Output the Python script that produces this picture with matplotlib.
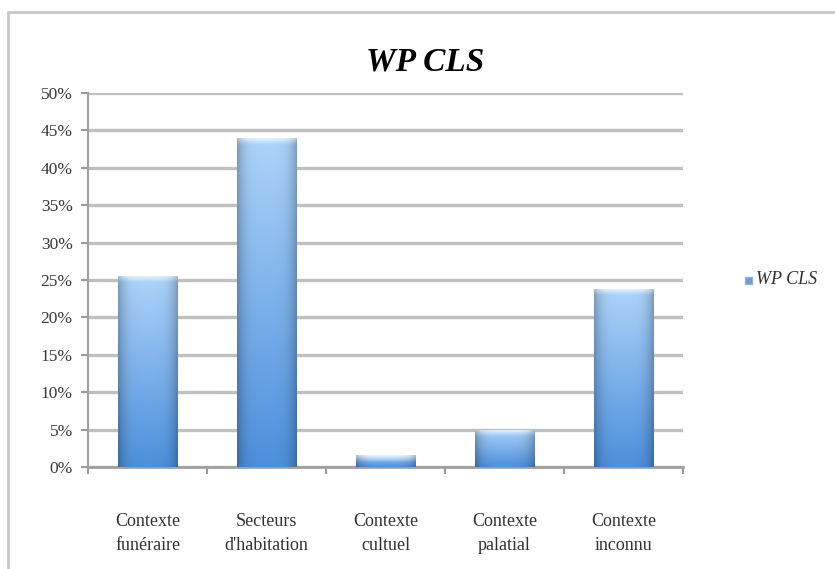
import numpy as np
import matplotlib
matplotlib.use('Agg')
import matplotlib.pyplot as plt
from matplotlib.patches import Rectangle

# data
categories = ['Contexte\nfunéraire', "Secteurs\nd'habitation", 'Contexte\ncultuel',
              'Contexte\npalatial', 'Contexte\ninconnu']
values = [25.6, 44.0, 1.6, 5.0, 23.8]
yticks = [0, 5, 10, 15, 20, 25, 30, 35, 40, 45, 50]
series_name = 'WP CLS'

plt.rcParams['font.family'] = ['Liberation Serif', 'DejaVu Serif']

fig = plt.figure(figsize=(8.35, 5.69), dpi=100)
# light grey frame round the whole chart
fig.patches.append(Rectangle((8 / 835, -0.01), 1.0, 1 - 12 / 569 + 0.01,
                             transform=fig.transFigure, fill=False,
                             edgecolor='#c8c8c8', linewidth=2))

ax = fig.add_axes([88 / 835, 1 - 467 / 569, (683 - 88) / 835, (467 - 93) / 569])

x = np.arange(len(categories))
bars = ax.bar(x, values, width=0.5, color='none', zorder=3)

# vertical gradient (light top, darker bottom) with darker edges
gy = np.linspace(0, 1, 256)[:, None]
gx = np.linspace(-1, 1, 64)[None, :]
light = np.array([0.68, 0.83, 0.98])
dark = np.array([0.30, 0.56, 0.86])
px_per_unit = 374 / 50
for b in bars:
    h = b.get_height()
    t = gy * np.ones_like(gx)
    edge = np.abs(gx) ** 4 * np.ones_like(gy)
    img = light[None, None, :] * (1 - t[..., None]) + dark[None, None, :] * t[..., None]
    img = img * (1 - 0.25 * edge[..., None])
    # soft white cap at the top, about 7 px deep
    depth = 7 / (h * px_per_unit)
    w = np.clip(1 - gy / depth, 0, 1) * 0.75 * (1 - 0.5 * edge)
    img = img * (1 - w[..., None]) + w[..., None]
    x0 = b.get_x()
    im = ax.imshow(np.clip(img, 0, 1), extent=[x0, x0 + b.get_width(), 0, h],
                   aspect='auto', origin='upper', zorder=3)
    im.set_clip_path(b)

ax.set_xlim(-0.5, len(categories) - 0.5)
ax.set_ylim(0, 50)
ax.set_yticks(yticks)
ax.set_yticklabels([f'{v}%' for v in yticks], fontsize=12.5, color='#3a3a3a')
ax.yaxis.grid(True, color='#c0c0c0', linewidth=2.4, zorder=0)
ax.set_axisbelow(True)

ax.set_xticks(x)
ax.set_xticklabels(categories, fontsize=13, color='#333333', linespacing=1.55)
ax.set_xticks(np.arange(-0.5, len(categories), 1), minor=True)
ax.tick_params(axis='x', which='major', length=0, pad=33)
ax.tick_params(axis='x', which='minor', length=5, color='#999999', width=1.5)
ax.tick_params(axis='y', length=5, color='#999999', width=1.5, pad=6)

for s in ['top', 'right']:
    ax.spines[s].set_visible(False)
ax.spines['left'].set_color('#a0a0a0')
ax.spines['left'].set_linewidth(1.5)
ax.spines['bottom'].set_color('#a0a0a0')
ax.spines['bottom'].set_linewidth(2)

fig.text(425 / 835, 1 - 62 / 569, series_name, fontsize=24, fontweight='bold',
         fontstyle='italic', ha='center', va='center')

# legend
fig.patches.append(Rectangle((745 / 835, 1 - 284 / 569), 7 / 835, 7 / 569,
                             transform=fig.transFigure, facecolor='#6f9bd0',
                             edgecolor='#8fb3de'))
fig.text(756 / 835, 1 - 280 / 569, series_name, fontsize=13, fontstyle='italic',
         ha='left', va='center', color='#333333')

fig.savefig('out.png', dpi=100)
